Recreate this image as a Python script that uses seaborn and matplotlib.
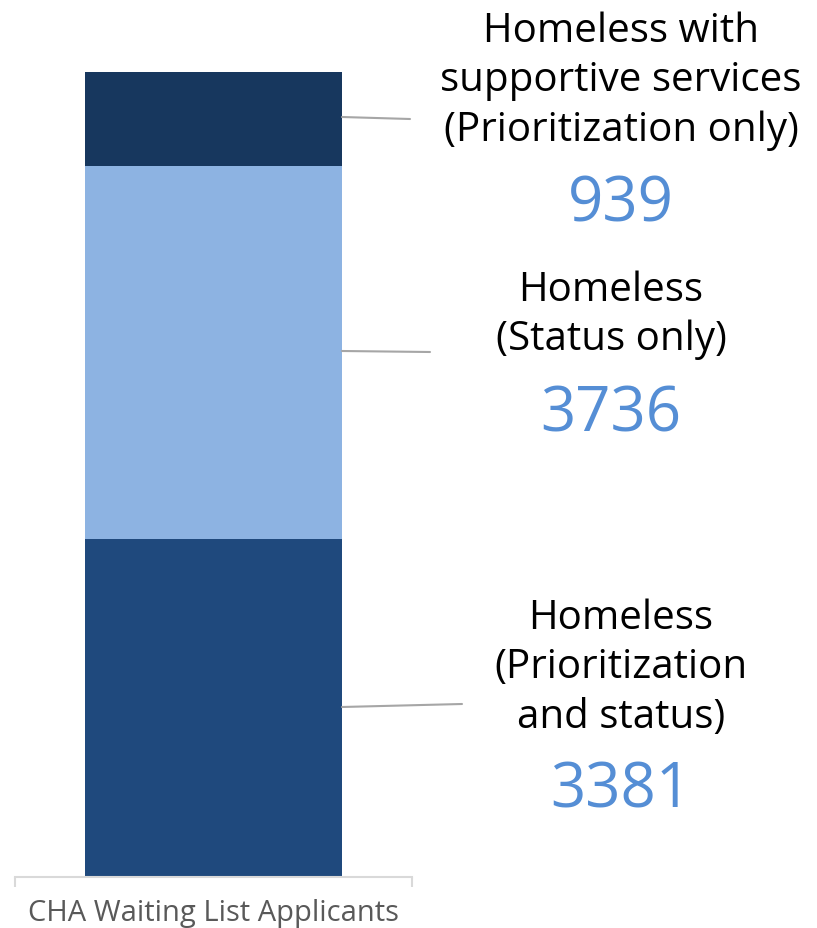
import matplotlib
matplotlib.use("Agg")
import matplotlib.pyplot as plt
import seaborn as sns
import pandas as pd
import numpy as np

category = "CHA Waiting List Applicants"
segment_names = [
    "Homeless\n(Prioritization\nand status)",
    "Homeless\n(Status only)",
    "Homeless with\nsupportive services\n(Prioritization only)",
]
segment_values = [3381, 3736, 939]
segment_colors = ["#1F497D", "#8DB3E2", "#17375E"]

sns.set_theme(style="white")
plt.rcParams["font.family"] = ["Open Sans", "DejaVu Sans"]

W, H = 817, 929
fig = plt.figure(figsize=(W / 100, H / 100), dpi=100)

# axes placed in pixel terms: x 15..412, y 73..878 (top-down)
ax_left, ax_right, ax_top, ax_bottom = 15, 412, 73, 878
ax = fig.add_axes([ax_left / W, (H - ax_bottom) / H,
                   (ax_right - ax_left) / W, (ax_bottom - ax_top) / H])

cum = np.cumsum(segment_values)
# draw stacked segments from the top layer down so lower layers overdraw
for i in reversed(range(len(segment_values))):
    df = pd.DataFrame({"cat": [category], "val": [cum[i]]})
    sns.barplot(data=df, x="cat", y="val", color=segment_colors[i],
                width=0.647, saturation=1, ax=ax, linewidth=0)

ax.set_ylim(0, cum[-1])
ax.set_xlim(-0.5, 0.5)
ax.set_xlabel("")
ax.set_ylabel("")
ax.set_yticks([])
ax.set_xticks([])
for s in ["top", "right", "left"]:
    ax.spines[s].set_visible(False)
ax.spines["bottom"].set_color("#D9D9D9")
ax.spines["bottom"].set_linewidth(1.5)

# end ticks on the category axis
for xe in (-0.5, 0.5):
    ax.plot([xe, xe], [0, -cum[-1] * 0.0125], color="#D9D9D9", lw=1.5,
            clip_on=False, solid_capstyle="butt")

ax.text(0, -cum[-1] * 0.044, category, ha="center", va="center",
        fontsize=21, color="#595959")

# labels and leader lines, positioned in figure pixels
def px(x, y):
    return x / W, 1 - y / H

label_specs = [
    dict(cx=621, ty=668, ny=791, l0=(342, 708), l1=(462, 705)),
    dict(cx=611, ty=315, ny=415, l0=(342, 352), l1=(430, 353)),
    dict(cx=621, ty=81, ny=205, l0=(342, 118), l1=(410, 120)),
]

for name, val, spec in zip(segment_names, segment_values, label_specs):
    fig.text(*px(spec["cx"], spec["ty"]), name, ha="center", va="center",
             fontsize=29, color="#000000", linespacing=1.29)
    fig.text(*px(spec["cx"], spec["ny"]), f"{val}", ha="center", va="center",
             fontsize=44.5, color="#558ED5")
    (x0, y0), (x1, y1) = spec["l0"], spec["l1"]
    fig.add_artist(plt.Line2D([x0 / W, x1 / W], [1 - y0 / H, 1 - y1 / H],
                              transform=fig.transFigure, color="#A6A6A6", lw=1.5))

fig.savefig("out.png", dpi=100)
